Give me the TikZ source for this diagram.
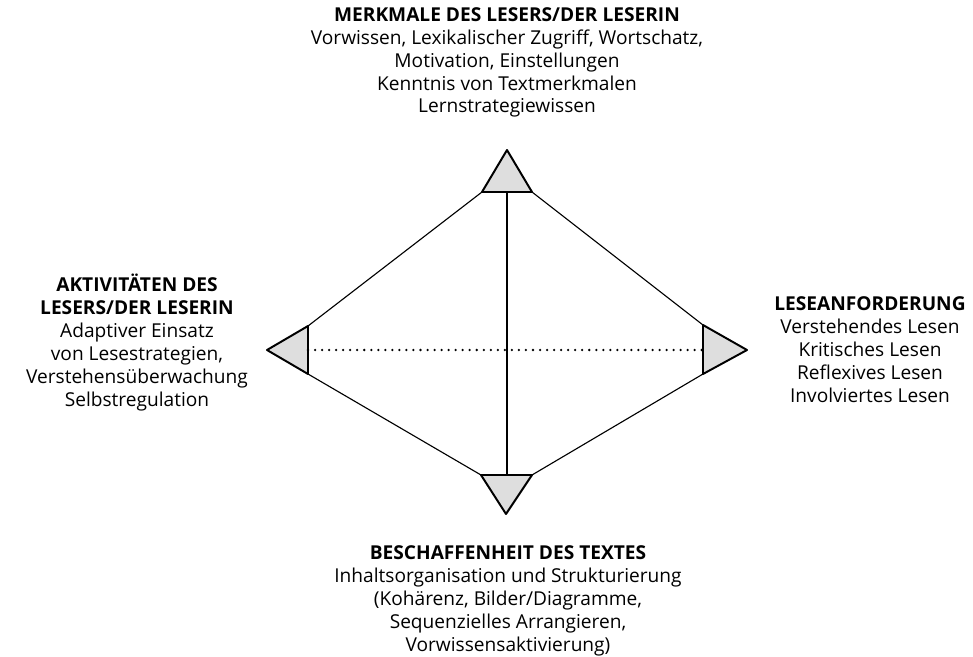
\documentclass[tikz,border=0pt]{standalone}
\usepackage{fontspec}
\setmainfont{Open Sans}
\definecolor{cornergray}{RGB}{222, 222, 222}

\begin{document}
\begin{tikzpicture}[x=0.025cm, y=-0.025cm, line join=round,
             edge/.style = {draw=black, line width=0.8pt},
           corner/.style = {draw=black, fill=cornergray, line width=1.4pt},
           dotrow/.style = {draw=black, line width=1.8pt, line cap=round, dash pattern=on 0pt off 5pt},
        textblock/.style = {align=center, anchor=base, inner sep=0pt, font=\fontsize{13.6}{16.3}\selectfont}]
    \useasboundingbox (0,0) rectangle (973,657);

    \coordinate (ta) at (507,150); \coordinate (tl) at (482,192); \coordinate (tr) at (532,192); \coordinate (tm) at (507,192);
    \coordinate (la) at (267,350); \coordinate (lt) at (308,326); \coordinate (lb) at (308,374); \coordinate (lm) at (308,350);
    \coordinate (ra) at (747,350); \coordinate (rt) at (703,325); \coordinate (rb) at (703,374); \coordinate (rm) at (703,350);
    \coordinate (ba) at (506,514); \coordinate (bl) at (481,475); \coordinate (br) at (532,475); \coordinate (bm) at (507,475);

    \draw[corner] (ta) -- (tl) -- (tr) -- cycle;
    \draw[corner] (la) -- (lt) -- (lb) -- cycle;
    \draw[corner] (ra) -- (rt) -- (rb) -- cycle;
    \draw[corner] (ba) -- (bl) -- (br) -- cycle;

    \draw[edge] (tl) -- (lt);
    \draw[edge] (tr) -- (rt);
    \draw[edge] (lb) -- (bl);
    \draw[edge] (rb) -- (br);
    \draw[edge] (tm) -- (bm);
    \draw[dotrow] (lm) -- (rm);

    \node[textblock] (reader) at (507,113) {\textbf{MERKMALE DES LESERS/DER LESERIN}\\
        Vorwissen, Lexikalischer Zugriff, Wortschatz,\\ Motivation, Einstellungen\\ Kenntnis von Textmerkmalen\\ Lernstrategiewissen};
    \node[textblock] (activity) at (137,406) {\textbf{AKTIVITÄTEN DES}\\ \textbf{LESERS/DER LESERIN}\\
        Adaptiver Einsatz\\ von Lesestrategien,\\ Verstehensüberwachung\\ Selbstregulation};
    \node[textblock] (demand) at (870,402) {\textbf{LESEANFORDERUNG}\\
        Verstehendes Lesen\\ Kritisches Lesen\\ Reflexives Lesen\\ Involviertes Lesen};
    \node[textblock] (text) at (508,651) {\textbf{BESCHAFFENHEIT DES TEXTES}\\
        Inhaltsorganisation und Strukturierung\\ (Kohärenz, Bilder/Diagramme,\\ Sequenzielles Arrangieren,\\ Vorwissensaktivierung)};
\end{tikzpicture}
\end{document}
